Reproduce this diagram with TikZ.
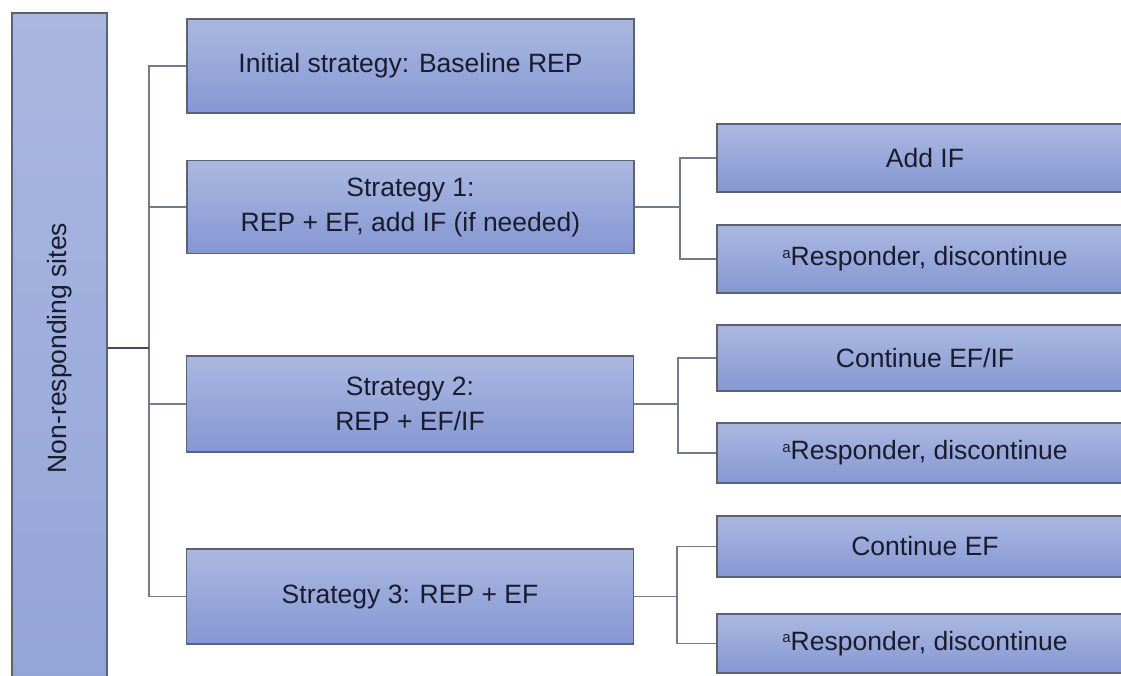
\documentclass[tikz,border=0pt]{standalone}
\usepackage{fontspec}
\setmainfont{Liberation Sans}
\definecolor{boxtop}{HTML}{AAB8E0}
\definecolor{boxbot}{HTML}{8597D3}
\definecolor{leftbot}{HTML}{93A4D9}
\definecolor{boxline}{HTML}{5C6272}
\definecolor{connline}{HTML}{737B8C}
\definecolor{mainline}{HTML}{3E4C6C}
\definecolor{txt}{HTML}{1A1C2E}
\newcommand{\supa}{\raisebox{0.55ex}{\fontsize{15}{15}\selectfont a}}
\tikzset{
  sbox/.style={draw=boxline, line width=1.3pt, top color=boxtop, bottom color=boxbot,
    inner sep=0pt, align=center, text=txt,
    font=\fontsize{26.5}{35}\selectfont},
  conn/.style={draw=connline, line width=1.9pt},
  mainconn/.style={draw=mainline, line width=2.2pt},
}
\begin{document}
\begin{tikzpicture}[x=1pt,y=-1pt]
\clip (0,0) rectangle (1121,675);
\fill[white] (0,0) rectangle (1121,675);
% left box
\node[sbox, minimum width=95pt, minimum height=670pt, top color=boxtop, bottom color=leftbot] (left) at (59.5,348) {};
\node[rotate=90, text=txt, font=\fontsize{26.5}{35}\selectfont] (lefttxt) at (left.center) {Non-responding sites};
% middle boxes
\node[sbox, minimum width=447pt, minimum height=94pt] (init) at (410.5,66) {Initial strategy: Baseline REP};
\node[sbox, minimum width=447pt, minimum height=93pt] (s1) at (410.5,207) {Strategy 1:\\REP + EF, add IF (if needed)};
\node[sbox, minimum width=447pt, minimum height=96pt] (s2) at (410,404) {Strategy 2:\\REP + EF/IF};
\node[sbox, minimum width=447pt, minimum height=95pt] (s3) at (410,596.5) {Strategy 3: REP + EF};
% right boxes
\node[sbox, minimum width=416pt, minimum height=68pt] (addif) at (925,158) {Add IF};
\node[sbox, minimum width=416pt, minimum height=68pt] (r1) at (925,259) {\supa Responder, discontinue};
\node[sbox, minimum width=416pt, minimum height=66pt] (cefif) at (925,358) {Continue EF/IF};
\node[sbox, minimum width=416pt, minimum height=60pt] (r2) at (925,453) {\supa Responder, discontinue};
\node[sbox, minimum width=416pt, minimum height=61pt] (cef) at (925,546.5) {Continue EF};
\node[sbox, minimum width=416pt, minimum height=59pt] (r3) at (925,643.5) {\supa Responder, discontinue};
% connector coordinates
\coordinate (trunk) at (149,0);
\coordinate (b1) at (680,0);
\coordinate (b2) at (678,0);
\coordinate (b3) at (677,0);
% trunk
\draw[conn] (init.west) -- (init.west -| trunk) |- (s3.west);
\draw[conn] (s1.west) -- (s1.west -| trunk);
\draw[conn] (s2.west) -- (s2.west -| trunk);
\draw[mainconn] (left.east) -- (left.east -| trunk);
% branches
\draw[conn] (s1.east) -- (s1.east -| b1);
\draw[conn] (addif.west) -- (addif.west -| b1) |- (r1.west);
\draw[conn] (s2.east) -- (s2.east -| b2);
\draw[conn] (cefif.west) -- (cefif.west -| b2) |- (r2.west);
\draw[conn] (s3.east) -- (s3.east -| b3);
\draw[conn] (cef.west) -- (cef.west -| b3) |- (r3.west);
\end{tikzpicture}
\end{document}
